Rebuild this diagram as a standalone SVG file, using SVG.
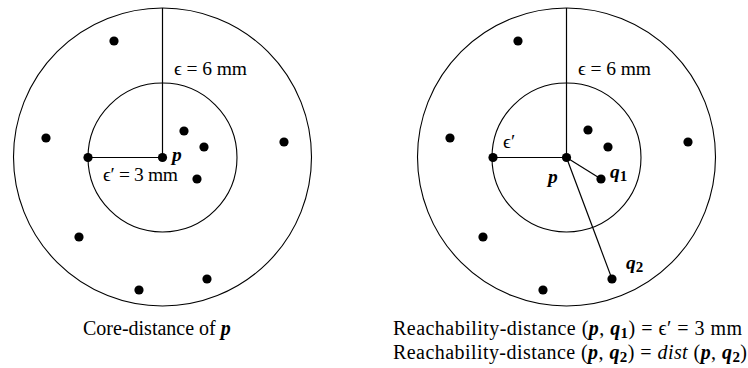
<svg xmlns="http://www.w3.org/2000/svg" width="748" height="368" viewBox="0 0 748 368">
<style>
.c{fill:none;stroke:#000;stroke-width:1.1}
.l{stroke:#000;stroke-width:1.2;fill:none}
.d{fill:#000}
text{font-family:"Liberation Serif","DejaVu Serif",serif;font-size:19.5px;fill:#000}
.cap{font-size:20px}
.bi{font-weight:bold;font-style:italic}
.b{font-weight:bold;font-size:15px}
.i{font-style:italic}
</style>
<g id="left">
  <g id="left-circles">
    <circle class="c" cx="162.5" cy="157" r="149"/>
    <circle class="c" cx="162.5" cy="157.5" r="74.5"/>
  </g>
  <g id="left-connectors">
    <line class="l" x1="162.5" y1="8" x2="162.5" y2="157.5"/>
    <line class="l" x1="88" y1="157.5" x2="162.5" y2="157.5"/>
  </g>
  <g id="left-points">
    <circle class="d" cx="162.5" cy="157.5" r="4.6"/>
    <circle class="d" cx="88" cy="157.5" r="4.6"/>
    <circle class="d" cx="114" cy="41" r="4.6"/>
    <circle class="d" cx="46" cy="138" r="4.6"/>
    <circle class="d" cx="184" cy="131" r="4.6"/>
    <circle class="d" cx="204" cy="147" r="4.6"/>
    <circle class="d" cx="284" cy="142" r="4.6"/>
    <circle class="d" cx="197" cy="179" r="4.6"/>
    <circle class="d" cx="79" cy="237" r="4.6"/>
    <circle class="d" cx="207" cy="279" r="4.6"/>
    <circle class="d" cx="139" cy="290" r="4.6"/>
  </g>
  <g id="left-labels">
    <text x="174" y="75" textLength="73">ϵ = 6 mm</text>
    <text x="172" y="161" class="bi">p</text>
    <text x="103" y="181" textLength="75">ϵ′ = 3 mm</text>
    <text x="83" y="335" class="cap">Core-distance of <tspan class="bi">p</tspan></text>
  </g>
</g>
<g id="right">
  <g id="right-circles">
    <circle class="c" cx="566.5" cy="157" r="149"/>
    <circle class="c" cx="566.5" cy="157.5" r="74.5"/>
  </g>
  <g id="right-connectors">
    <line class="l" x1="566.5" y1="8" x2="566.5" y2="157.5"/>
    <line class="l" x1="493" y1="157.5" x2="566.5" y2="157.5"/>
    <line class="l" x1="566.5" y1="157.5" x2="601" y2="179"/>
    <line class="l" x1="566.5" y1="157.5" x2="612" y2="279"/>
  </g>
  <g id="right-points">
    <circle class="d" cx="566.5" cy="157.5" r="4.6"/>
    <circle class="d" cx="493" cy="157.5" r="4.6"/>
    <circle class="d" cx="518" cy="41" r="4.6"/>
    <circle class="d" cx="450" cy="138" r="4.6"/>
    <circle class="d" cx="588" cy="130" r="4.6"/>
    <circle class="d" cx="608" cy="147" r="4.6"/>
    <circle class="d" cx="688" cy="142" r="4.6"/>
    <circle class="d" cx="601" cy="179" r="4.6"/>
    <circle class="d" cx="483" cy="237" r="4.6"/>
    <circle class="d" cx="612" cy="279" r="4.6"/>
    <circle class="d" cx="543" cy="290" r="4.6"/>
  </g>
  <g id="right-labels">
    <text x="578" y="75" textLength="73">ϵ = 6 mm</text>
    <text x="503" y="148">ϵ′</text>
    <text x="548" y="183" class="bi">p</text>
    <text x="610" y="178"><tspan class="bi">q</tspan><tspan class="b" dy="3">1</tspan></text>
    <text x="626" y="269"><tspan class="bi">q</tspan><tspan class="b" dy="3">2</tspan></text>
    <text x="393" y="335" class="cap" textLength="349">Reachability-distance (<tspan class="bi">p</tspan>, <tspan class="bi">q</tspan><tspan class="b" dy="3">1</tspan><tspan dy="-3">) = ϵ′ = 3 mm</tspan></text>
    <text x="393" y="359" class="cap" textLength="354">Reachability-distance (<tspan class="bi">p</tspan>, <tspan class="bi">q</tspan><tspan class="b" dy="3">2</tspan><tspan dy="-3">) = </tspan><tspan class="i">dist</tspan> (<tspan class="bi">p</tspan>, <tspan class="bi">q</tspan><tspan class="b" dy="3">2</tspan><tspan dy="-3">)</tspan></text>
  </g>
</g>
</svg>
